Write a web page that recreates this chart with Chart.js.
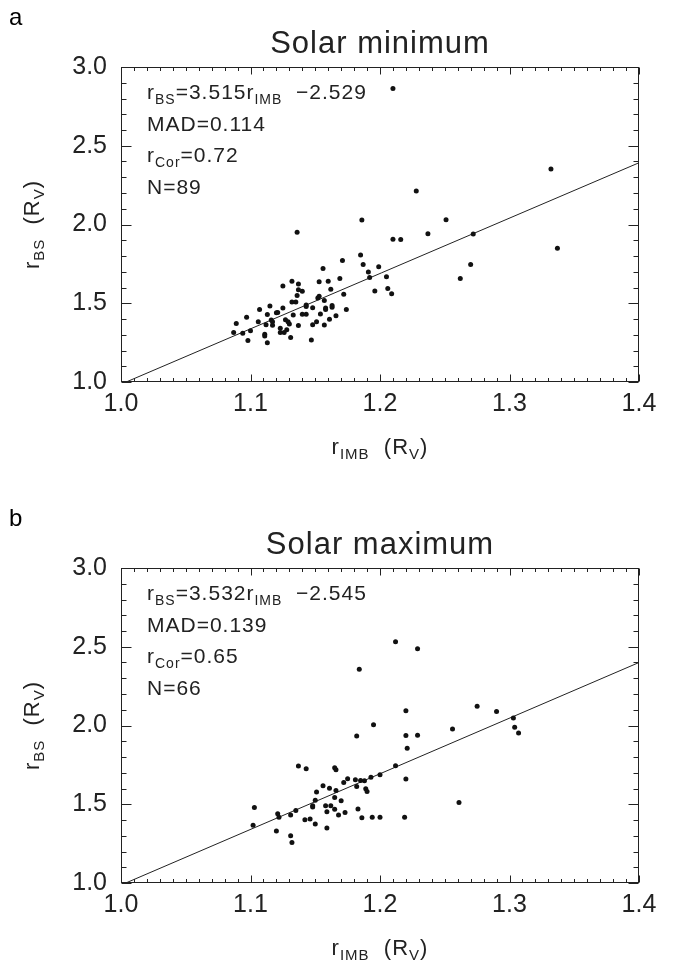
<!DOCTYPE html>
<html>
<head>
<meta charset="utf-8">
<script src="https://cdn.jsdelivr.net/npm/chart.js@4.4.1/dist/chart.umd.min.js"></script>
<style>
  html, body { margin: 0; padding: 0; background: #fff; }
  body { width: 683px; height: 967px; position: relative; overflow: hidden; }
  canvas { position: absolute; left: 0; }
  #chart-min { top: 0; }
  #chart-max { top: 501px; }
</style>
</head>
<body>
<canvas id="chart-min" width="683" height="501"></canvas>
<canvas id="chart-max" width="683" height="466"></canvas>
<script>
const FONT = '"Liberation Sans", Arial, sans-serif';
const INK = '#222';

// shared axes
const xTickValues = [1.0, 1.1, 1.2, 1.3, 1.4];
const yTickValues = [1.0, 1.5, 2.0, 2.5, 3.0];
const xMinorStep = 0.01;
const yMinorStep = 0.1;
const xTitle = [['r'], ['IMB', 1], ['  (R'], ['V', 1], [')']];
const yTitle = [['r'], ['BS', 1], ['  (R'], ['V', 1], [')']];

// panel a - solar minimum
const minIMB = [1.210, 1.332, 1.228, 1.186, 1.251, 1.136, 1.237, 1.272, 1.210, 1.216,
    1.337, 1.185, 1.171, 1.187, 1.199, 1.270, 1.156, 1.191, 1.192, 1.205,
    1.262, 1.169, 1.132, 1.137, 1.153, 1.160, 1.125, 1.137, 1.140, 1.162,
    1.206, 1.196, 1.209, 1.172, 1.136, 1.132, 1.135, 1.143, 1.143, 1.152,
    1.153, 1.157, 1.148, 1.158, 1.163, 1.163, 1.158, 1.174, 1.125, 1.107,
    1.115, 1.120, 1.121, 1.113, 1.097, 1.106, 1.089, 1.116, 1.117, 1.112,
    1.117, 1.127, 1.129, 1.130, 1.133, 1.140, 1.143, 1.137, 1.148, 1.151,
    1.154, 1.161, 1.157, 1.166, 1.123, 1.128, 1.126, 1.123, 1.111, 1.111,
    1.100, 1.094, 1.087, 1.131, 1.098, 1.113, 1.147];
const minBS = [2.864, 2.352, 2.212, 2.028, 2.030, 1.951, 1.941, 1.939, 1.907, 1.905,
    1.850, 1.807, 1.771, 1.746, 1.731, 1.746, 1.720, 1.699, 1.663, 1.669,
    1.657, 1.657, 1.640, 1.623, 1.636, 1.640, 1.610, 1.585, 1.576, 1.589,
    1.593, 1.578, 1.561, 1.557, 1.549, 1.508, 1.508, 1.489, 1.479, 1.534,
    1.544, 1.517, 1.472, 1.470, 1.485, 1.475, 1.460, 1.460, 1.470, 1.460,
    1.483, 1.439, 1.441, 1.428, 1.411, 1.383, 1.371, 1.394, 1.383, 1.364,
    1.360, 1.396, 1.383, 1.369, 1.426, 1.430, 1.430, 1.358, 1.364, 1.383,
    1.432, 1.398, 1.362, 1.421, 1.341, 1.331, 1.314, 1.314, 1.303, 1.292,
    1.326, 1.309, 1.314, 1.282, 1.263, 1.250, 1.267];
const minFitX = [1.0, 1.4];
const minFitY = [0.986, 2.392];
const minNotes = [
    [['r'], ['BS', 1], ['=3.515r'], ['IMB', 1], ['  \u22122.529']],
    [['MAD=0.114']],
    [['r'], ['Cor', 1], ['=0.72']],
    [['N=89']]
];

// panel b - solar maximum
const maxIMB = [1.212, 1.229, 1.184, 1.275, 1.290, 1.220, 1.303, 1.195, 1.256, 1.304,
    1.307, 1.182, 1.220, 1.229, 1.221, 1.212, 1.137, 1.143, 1.165, 1.166,
    1.200, 1.193, 1.175, 1.181, 1.172, 1.185, 1.188, 1.220, 1.182, 1.156,
    1.161, 1.189, 1.190, 1.166, 1.151, 1.165, 1.150, 1.170, 1.261, 1.148,
    1.148, 1.158, 1.162, 1.103, 1.165, 1.135, 1.159, 1.183, 1.173, 1.121,
    1.122, 1.131, 1.168, 1.142, 1.146, 1.186, 1.194, 1.200, 1.219, 1.150,
    1.102, 1.159, 1.120, 1.131, 1.132];
const maxBS = [2.532, 2.487, 2.357, 2.123, 2.089, 2.094, 2.047, 2.004, 1.977, 1.989,
    1.953, 1.934, 1.936, 1.938, 1.855, 1.745, 1.743, 1.726, 1.732, 1.719,
    1.687, 1.672, 1.662, 1.655, 1.638, 1.651, 1.649, 1.660, 1.613, 1.617,
    1.602, 1.598, 1.581, 1.587, 1.577, 1.543, 1.526, 1.523, 1.511, 1.491,
    1.483, 1.491, 1.491, 1.479, 1.468, 1.460, 1.453, 1.470, 1.447, 1.440,
    1.417, 1.432, 1.432, 1.402, 1.406, 1.415, 1.417, 1.417, 1.417, 1.374,
    1.366, 1.349, 1.330, 1.300, 1.257];
const maxFitX = [1.0, 1.4];
const maxFitY = [0.987, 2.400];
const maxNotes = [
    [['r'], ['BS', 1], ['=3.532r'], ['IMB', 1], ['  \u22122.545']],
    [['MAD=0.139']],
    [['r'], ['Cor', 1], ['=0.65']],
    [['N=66']]
];

// draws text with subscripts, returns the end x
function drawRich(ctx, parts, x, y, size, subSize, measureOnly) {
    let cx = x;
    parts.forEach(([t, sub]) => {
        ctx.font = `${sub ? subSize : size}px ${FONT}`;
        if (!measureOnly) ctx.fillText(t, cx, sub ? y + size * 0.22 : y);
        cx += ctx.measureText(t).width;
    });
    return cx;
}

const idlFrame = {
    id: 'idlFrame',
    afterDraw(chart, args, opts) {
        const { ctx, chartArea: a, scales: { x, y } } = chart;
        ctx.save();
        ctx.strokeStyle = INK;
        ctx.fillStyle = INK;
        ctx.lineWidth = 1;

        // box
        const L = Math.round(a.left) + 0.5, R = Math.round(a.right) - 0.5;
        const T = Math.round(a.top) + 0.5, B = Math.round(a.bottom) - 0.5;
        ctx.strokeRect(L, T, R - L, B - T);

        // inward ticks on all four sides
        ctx.beginPath();
        for (let i = 0; i <= 40; i++) {
            const v = 1.0 + i * xMinorStep;
            const px = Math.round(x.getPixelForValue(v)) + 0.5;
            const len = i % 10 === 0 ? 7 : 3.5;
            ctx.moveTo(px, B); ctx.lineTo(px, B - len);
            ctx.moveTo(px, T); ctx.lineTo(px, T + len);
        }
        for (let i = 0; i <= 20; i++) {
            const v = 1.0 + i * yMinorStep;
            const py = Math.round(y.getPixelForValue(v)) + 0.5;
            const len = i % 5 === 0 ? 10 : 5;
            ctx.moveTo(L, py); ctx.lineTo(L + len, py);
            ctx.moveTo(R, py); ctx.lineTo(R - len, py);
        }
        ctx.stroke();

        ctx.textBaseline = 'alphabetic';
        ctx.textAlign = 'left';
        ctx.letterSpacing = '1px';

        // panel letter
        ctx.font = `24px ${FONT}`;
        ctx.fillStyle = '#000';
        ctx.fillText(opts.panel, 9, 25);
        ctx.fillStyle = INK;

        // title
        ctx.font = `31px ${FONT}`;
        ctx.textAlign = 'center';
        ctx.fillText(opts.title, (a.left + a.right) / 2, 53);
        ctx.textAlign = 'left';

        // fit notes
        opts.notes.forEach((line, i) => {
            drawRich(ctx, line, a.left + 26, a.top + 32 + i * 31.5, 21, 14);
        });

        // x title
        const wx = drawRich(ctx, xTitle, 0, 0, 22, 15, true);
        drawRich(ctx, xTitle, (a.left + a.right) / 2 - wx / 2, a.bottom + 72, 22, 15);

        // y title (rotated)
        const wy = drawRich(ctx, yTitle, 0, 0, 22, 15, true);
        ctx.translate(39, (a.top + a.bottom) / 2);
        ctx.rotate(-Math.PI / 2);
        drawRich(ctx, yTitle, -wy / 2, 0, 22, 15);
        ctx.restore();
    }
};

function makePanel(id, xs, ys, fitX, fitY, title, panel, notes, bottomPad) {
    const points = xs.map((v, i) => ({ x: v, y: ys[i] }));
    const fit = fitX.map((v, i) => ({ x: v, y: fitY[i] }));
    return new Chart(document.getElementById(id), {
        type: 'scatter',
        data: {
            datasets: [
                { data: points, pointRadius: 2.5, pointHoverRadius: 2.5, backgroundColor: '#111', borderWidth: 0 },
                { data: fit, showLine: true, borderColor: INK, borderWidth: 1, pointRadius: 0, fill: false }
            ]
        },
        options: {
            responsive: false,
            animation: false,
            events: [],
            layout: { padding: { left: 61, right: 44, top: 67, bottom: bottomPad } },
            plugins: {
                legend: { display: false },
                tooltip: { enabled: false },
                idlFrame: { title, panel, notes }
            },
            scales: {
                x: {
                    type: 'linear', min: 1.0, max: 1.4,
                    afterBuildTicks: s => { s.ticks = xTickValues.map(v => ({ value: v })); },
                    afterFit: s => { s.height = 40; },
                    ticks: {
                        autoSkip: false, maxRotation: 0, padding: 7,
                        color: INK, font: { family: FONT, size: 25 },
                        callback: v => Number(v).toFixed(1)
                    },
                    grid: { display: false, drawTicks: false },
                    border: { display: false }
                },
                y: {
                    type: 'linear', min: 1.0, max: 3.0,
                    afterBuildTicks: s => { s.ticks = yTickValues.map(v => ({ value: v })); },
                    afterFit: s => { s.width = 60; },
                    ticks: {
                        autoSkip: false, padding: 14,
                        color: INK, font: { family: FONT, size: 25 },
                        callback: v => Number(v).toFixed(1)
                    },
                    grid: { display: false, drawTicks: false },
                    border: { display: false }
                }
            }
        },
        plugins: [idlFrame]
    });
}

makePanel('chart-min', minIMB, minBS, minFitX, minFitY, 'Solar minimum', 'a', minNotes, 79);
makePanel('chart-max', maxIMB, maxBS, maxFitX, maxFitY, 'Solar maximum', 'b', maxNotes, 44);
</script>
</body>
</html>
